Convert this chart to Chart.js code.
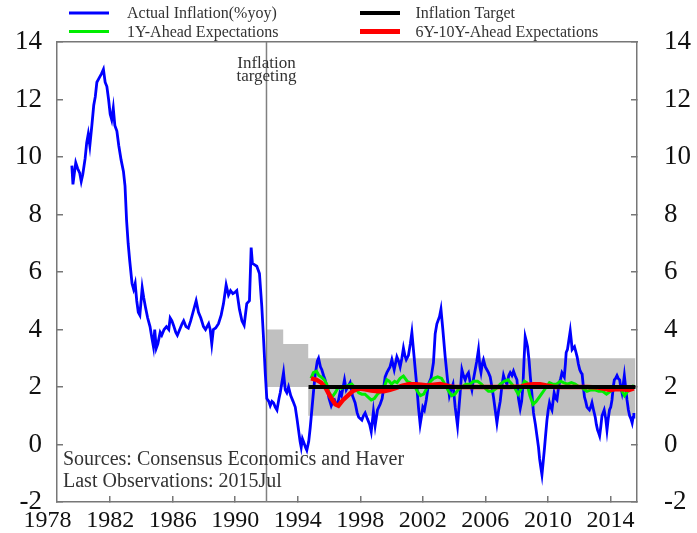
<!DOCTYPE html>
<html><head><meta charset="utf-8">
<script src="https://cdn.jsdelivr.net/npm/chart.js@4.4.1/dist/chart.umd.min.js"></script>
<style>html,body{margin:0;padding:0;background:#fff}#wrap{width:697px;height:533px}</style>
</head><body><div id="wrap"><canvas id="c" width="697" height="533"></canvas></div>
<script>
// ---------- DATA ----------
const seriesNames = ['Actual Inflation(%yoy)', 'Inflation Target', '1Y-Ahead Expectations', '6Y-10Y-Ahead Expectations'];
const xTickValues = [1978, 1982, 1986, 1990, 1994, 1998, 2002, 2006, 2010, 2014];
const xTickLabels = ['1978', '1982', '1986', '1990', '1994', '1998', '2002', '2006', '2010', '2014'];
const yTickValues = [-2, 0, 2, 4, 6, 8, 10, 12, 14];
const xMin = 1978.6, xMax = 2015.7;

const actualYears = [1979.55,1979.62,1979.7,1979.8,1979.92,1980.05,1980.15,1980.25,1980.4,1980.5,1980.6,1980.7,1980.83,1980.95,1981.05,1981.15,1981.3,1981.45,1981.57,1981.68,1981.79,1981.9,1982.0,1982.1,1982.2,1982.3,1982.43,1982.55,1982.7,1982.85,1982.95,1983.05,1983.15,1983.25,1983.4,1983.5,1983.6,1983.7,1983.8,1983.9,1984.05,1984.15,1984.25,1984.4,1984.55,1984.67,1984.77,1984.85,1984.95,1985.05,1985.2,1985.3,1985.45,1985.6,1985.75,1985.84,1985.95,1986.05,1986.2,1986.3,1986.45,1986.6,1986.7,1986.85,1987.0,1987.15,1987.3,1987.5,1987.65,1987.8,1987.97,1988.1,1988.3,1988.4,1988.5,1988.6,1988.75,1988.93,1989.1,1989.25,1989.42,1989.57,1989.7,1989.85,1990.0,1990.1,1990.27,1990.43,1990.57,1990.74,1990.91,1991.02,1991.1,1991.25,1991.38,1991.55,1991.7,1991.8,1991.92,1992.02,1992.15,1992.24,1992.35,1992.45,1992.56,1992.67,1992.8,1992.88,1993.0,1993.09,1993.2,1993.3,1993.41,1993.55,1993.7,1993.84,1993.95,1994.05,1994.15,1994.22,1994.3,1994.37,1994.5,1994.58,1994.7,1994.8,1994.9,1995.0,1995.11,1995.25,1995.33,1995.45,1995.54,1995.65,1995.75,1995.9,1996.0,1996.14,1996.25,1996.35,1996.45,1996.57,1996.7,1996.8,1996.99,1997.1,1997.2,1997.35,1997.5,1997.67,1997.8,1997.9,1998.1,1998.2,1998.31,1998.45,1998.6,1998.7,1998.84,1998.95,1999.1,1999.27,1999.4,1999.59,1999.7,1999.8,1999.9,2000.02,2000.17,2000.34,2000.45,2000.55,2000.66,2000.76,2000.85,2000.94,2001.08,2001.2,2001.3,2001.4,2001.5,2001.62,2001.72,2001.83,2001.92,2002.0,2002.1,2002.22,2002.36,2002.52,2002.68,2002.79,2002.9,2003.07,2003.16,2003.28,2003.43,2003.58,2003.7,2003.8,2003.93,2004.07,2004.22,2004.3,2004.39,2004.5,2004.6,2004.71,2004.8,2004.92,2005.05,2005.14,2005.25,2005.35,2005.45,2005.56,2005.65,2005.72,2005.8,2005.88,2006.0,2006.1,2006.2,2006.31,2006.42,2006.52,2006.63,2006.74,2006.85,2006.95,2007.05,2007.16,2007.27,2007.38,2007.5,2007.59,2007.7,2007.8,2007.9,2008.02,2008.12,2008.23,2008.32,2008.4,2008.48,2008.55,2008.62,2008.7,2008.8,2008.87,2008.97,2009.08,2009.2,2009.3,2009.4,2009.47,2009.55,2009.62,2009.7,2009.77,2009.85,2009.94,2010.02,2010.1,2010.18,2010.26,2010.33,2010.4,2010.5,2010.58,2010.66,2010.74,2010.82,2010.9,2011.0,2011.05,2011.12,2011.17,2011.25,2011.32,2011.43,2011.5,2011.55,2011.62,2011.7,2011.8,2011.87,2011.95,2012.04,2012.12,2012.19,2012.27,2012.34,2012.42,2012.5,2012.58,2012.66,2012.74,2012.82,2012.92,2013.03,2013.1,2013.18,2013.25,2013.31,2013.38,2013.46,2013.53,2013.6,2013.7,2013.78,2013.86,2013.94,2014.02,2014.1,2014.18,2014.25,2014.33,2014.42,2014.5,2014.59,2014.66,2014.74,2014.82,2014.89,2014.97,2015.06,2015.15,2015.23,2015.31,2015.39,2015.45,2015.5];
const actualValues = [9.7,9.05,9.4,9.8,9.6,9.45,9.15,9.4,9.95,10.5,10.8,10.4,11.1,11.8,12.1,12.6,12.75,12.9,13.05,12.6,12.45,12.0,11.5,11.3,11.7,11.1,10.9,10.4,9.9,9.5,9.0,7.8,7.0,6.4,5.6,5.4,5.6,5.0,4.6,4.5,5.45,5.1,4.8,4.4,4.1,3.7,3.4,4.0,3.35,3.5,3.9,3.8,4.0,4.1,4.0,4.4,4.3,4.15,3.9,3.8,4.0,4.2,4.3,4.1,4.05,4.3,4.6,5.0,4.6,4.4,4.1,4.0,4.2,4.0,3.5,4.0,4.05,4.2,4.5,4.9,5.55,5.2,5.35,5.25,5.3,5.35,4.7,4.3,4.15,4.9,5.0,6.85,6.3,6.25,6.2,5.95,4.8,3.8,2.5,1.6,1.5,1.35,1.5,1.45,1.3,1.2,1.6,1.8,2.2,2.5,1.9,1.8,2.0,1.7,1.5,1.3,0.9,0.5,0.1,-0.1,0.2,0.1,-0.1,-0.2,0.1,0.6,1.2,1.8,2.4,2.9,3.0,2.7,2.6,2.4,2.25,1.9,1.6,1.35,1.5,1.55,1.4,1.45,1.8,1.7,2.25,1.9,2.0,2.15,1.7,1.45,1.1,0.95,0.85,1.0,1.1,0.9,0.7,0.45,1.15,0.65,1.2,1.4,1.6,2.35,2.5,2.6,2.7,2.95,2.6,3.05,2.9,2.7,3.0,3.35,3.1,2.95,3.1,3.5,3.9,3.3,2.7,2.0,1.3,0.7,1.0,1.3,1.2,1.55,2.1,2.3,2.85,3.85,4.2,4.45,4.7,4.0,3.05,2.25,1.7,1.9,2.1,1.3,0.65,1.2,1.8,2.6,2.4,2.25,2.4,2.5,2.1,1.9,2.3,2.6,2.9,3.3,2.7,2.5,2.8,2.95,2.7,2.6,2.5,2.35,2.0,1.65,1.2,0.75,1.2,1.5,2.0,2.4,2.2,2.1,2.4,2.5,2.4,2.55,2.4,2.25,1.6,1.25,1.5,2.0,3.0,3.75,3.6,3.4,2.9,2.4,1.8,1.1,0.7,0.3,-0.1,-0.5,-0.8,-1.05,-0.6,-0.2,0.3,0.85,1.2,1.45,1.3,1.2,1.5,1.8,1.6,1.55,1.9,2.15,2.3,2.5,2.4,2.35,2.8,3.2,3.3,3.55,3.95,3.6,3.3,3.35,3.4,3.2,3.05,2.8,2.6,2.5,2.45,2.0,1.65,1.5,1.3,1.25,1.2,1.3,1.45,1.2,0.95,0.7,0.5,0.4,0.3,0.6,1.0,1.1,1.2,0.9,0.5,0.9,1.2,1.3,1.55,2.0,2.25,2.3,2.4,2.3,2.25,2.0,1.8,2.1,2.4,2.0,1.55,1.2,1.0,0.9,0.75,0.95,1.1];

const exp1YYears = [1994.85,1995.0,1995.2,1995.35,1995.5,1995.7,1995.85,1996.0,1996.2,1996.4,1996.6,1996.8,1997.0,1997.2,1997.45,1997.7,1997.9,1998.1,1998.3,1998.5,1998.7,1998.9,1999.1,1999.3,1999.5,1999.7,1999.85,2000.0,2000.2,2000.35,2000.55,2000.76,2001.0,2001.2,2001.45,2001.65,2001.85,2002.05,2002.3,2002.5,2002.7,2002.95,2003.2,2003.45,2003.65,2003.85,2004.05,2004.25,2004.5,2004.75,2005.0,2005.25,2005.5,2005.75,2006.0,2006.2,2006.45,2006.7,2006.95,2007.2,2007.45,2007.7,2007.9,2008.1,2008.3,2008.5,2008.65,2008.85,2009.05,2009.25,2009.45,2009.65,2009.9,2010.1,2010.3,2010.55,2010.8,2011.0,2011.25,2011.5,2011.75,2012.0,2012.25,2012.5,2012.75,2013.0,2013.25,2013.5,2013.75,2014.0,2014.2,2014.45,2014.7,2014.9,2015.1,2015.3,2015.5];
const exp1YValues = [2.3,2.5,2.55,2.4,2.35,2.25,2.1,1.8,1.65,1.8,2.0,1.95,2.0,2.05,2.1,1.95,1.8,1.75,1.75,1.65,1.55,1.6,1.75,1.85,1.95,2.25,2.2,2.1,2.2,2.15,2.3,2.38,2.2,2.15,2.05,1.85,1.7,1.75,2.0,2.2,2.3,2.35,2.3,2.05,1.85,1.7,1.75,1.9,2.0,2.1,2.1,2.2,2.2,2.1,1.95,1.85,1.85,1.95,2.1,2.2,2.25,2.1,1.95,1.75,1.95,2.2,2.15,1.7,1.4,1.5,1.65,1.8,2.0,2.15,2.1,2.1,2.2,2.15,2.1,2.15,2.1,2.0,1.95,1.85,1.9,1.9,1.85,1.85,1.75,1.85,1.95,2.0,1.9,1.7,1.85,2.0,2.05];

const exp6YYears = [1994.85,1995.2,1995.5,1995.8,1996.1,1996.4,1996.6,1996.9,1997.2,1997.5,1997.9,1998.3,1998.7,1999.1,1999.5,1999.9,2000.3,2000.7,2001.1,2001.5,2001.9,2002.3,2002.7,2003.1,2003.5,2003.9,2004.5,2005.5,2006.5,2007.5,2008.3,2008.7,2009.1,2009.5,2009.9,2010.4,2011.5,2012.5,2013.2,2013.6,2014.0,2014.4,2014.8,2015.2,2015.5];
const exp6YValues = [2.3,2.25,2.15,1.95,1.65,1.4,1.35,1.55,1.7,1.85,1.95,1.92,1.88,1.85,1.85,1.9,1.97,2.05,2.1,2.1,2.08,2.05,2.08,2.1,2.05,2.0,2.0,2.0,2.0,2.0,2.02,2.08,2.1,2.1,2.05,2.0,2.0,2.0,1.98,1.94,1.9,1.93,1.92,1.9,1.95];

const targetYears = [1994.69, 2015.6];
const targetValues = [2, 2];

const bandYears = [1992.0, 1993.07, 1994.67, 2015.6];
const bandUpper = [4, 3.5, 3, 3];
const bandLower = [2, 2, 1, 1];

const regimeYear = 1992.0;
const regimeLabel = ['Inflation', 'targeting'];
const notes = ['Sources: Consensus Economics and Haver', 'Last Observations: 2015Jul'];

// ---------- BUILD ----------
const pts = (xs, ys) => xs.map((x, i) => ({x, y: ys[i]}));
const SERIF = "'Liberation Serif', 'Times New Roman', serif";
const colors = {actual: '#0000ff', target: '#000000', exp1: '#00ee00', exp6: '#ff0000'};

const textPlugin = {
  id: 'texts',
  afterDraw(chart) {
    const ctx = chart.ctx;
    const xs = chart.scales.x;
    ctx.save();
    ctx.fillStyle = '#333';
    ctx.font = "17px " + SERIF;
    ctx.textAlign = 'center';
    ctx.textBaseline = 'middle';
    const px = xs.getPixelForValue(regimeYear);
    ctx.fillText(regimeLabel[0], px, 64);
    ctx.fillText(regimeLabel[1], px, 77);
    ctx.font = "20px " + SERIF;
    ctx.textAlign = 'left';
    ctx.fillText(notes[0], 63, 460);
    ctx.fillText(notes[1], 63, 482);
    const items = [
      {name: seriesNames[0], color: colors.actual, w: 3, cx: 69, tx: 127, y: 13},
      {name: seriesNames[1], color: colors.target, w: 4, cx: 360, tx: 415.5, y: 13},
      {name: seriesNames[2], color: colors.exp1, w: 3, cx: 69, tx: 127, y: 31.5},
      {name: seriesNames[3], color: colors.exp6, w: 5, cx: 360, tx: 415.5, y: 31.5}
    ];
    ctx.font = "16px " + SERIF;
    items.forEach(it => {
      ctx.fillStyle = it.color;
      ctx.fillRect(it.cx, it.y - it.w / 2, 40, it.w);
      ctx.fillStyle = '#333';
      ctx.fillText(it.name, it.tx, it.y + 1);
    });
    ctx.restore();
  }
};

const axisGrid = {drawOnChartArea: false, tickLength: -6, color: '#777', lineWidth: 1.5};
const fixV = w => s => { s.width = w; s.paddingTop = 0; s.paddingBottom = 0; };

new Chart(document.getElementById('c'), {
  type: 'line',
  data: {
    datasets: [
      {label: seriesNames[1], data: pts(targetYears, targetValues), borderColor: colors.target, backgroundColor: colors.target, borderWidth: 4, pointRadius: 0, order: 0, fill: false},
      {label: seriesNames[3], data: pts(exp6YYears, exp6YValues), borderColor: colors.exp6, backgroundColor: colors.exp6, borderWidth: 4.5, pointRadius: 0, order: 1, fill: false},
      {label: seriesNames[2], data: pts(exp1YYears, exp1YValues), borderColor: colors.exp1, backgroundColor: colors.exp1, borderWidth: 3, pointRadius: 0, order: 2, fill: false},
      {label: seriesNames[0], data: pts(actualYears, actualValues), borderColor: colors.actual, backgroundColor: colors.actual, borderWidth: 2.8, pointRadius: 0, order: 3, fill: false},
      {label: 'regime', data: pts([regimeYear, regimeYear], [-2, 14]), borderColor: '#808080', borderWidth: 1.5, pointRadius: 0, order: 4, fill: false},
      {label: 'bandUpper', data: pts(bandYears, bandUpper), stepped: 'before', borderWidth: 0, borderColor: 'rgba(0,0,0,0)', backgroundColor: '#c0c0c0', pointRadius: 0, order: 5, fill: '+1'},
      {label: 'bandLower', data: pts(bandYears, bandLower), stepped: 'before', borderWidth: 0, borderColor: 'rgba(0,0,0,0)', pointRadius: 0, order: 6, fill: false}
    ]
  },
  options: {
    responsive: false,
    animation: false,
    devicePixelRatio: 1,
    layout: {padding: 0},
    elements: {line: {tension: 0}},
    plugins: {legend: {display: false}, tooltip: {enabled: false}, title: {display: false}},
    scales: {
      x: {
        type: 'linear', position: 'bottom', min: xMin, max: xMax,
        afterBuildTicks: s => { s.ticks = xTickValues.map(v => ({value: v})); },
        afterFit: s => { s.height = 31; },
        ticks: {autoSkip: false, maxRotation: 0, minRotation: 0, padding: 10, color: '#111',
                font: {family: SERIF, size: 24}, callback: (v, i) => xTickLabels[i]},
        grid: Object.assign({}, axisGrid, {color: c => (c.tick && c.tick.value < xMin) ? 'rgba(0,0,0,0)' : '#777'}),
        border: {color: '#777', width: 1.5}
      },
      x2: {
        type: 'linear', position: 'top', min: xMin, max: xMax,
        afterFit: s => { s.height = 42; },
        ticks: {display: false},
        grid: {display: false, drawTicks: false},
        border: {display: true, color: '#777', width: 1.5}
      },
      y: {
        type: 'linear', position: 'left', min: -2, max: 14,
        afterBuildTicks: s => { s.ticks = yTickValues.map(v => ({value: v})); },
        afterFit: fixV(57),
        ticks: {padding: 21, color: '#111', font: {family: SERIF, size: 27}},
        grid: axisGrid,
        border: {color: '#777', width: 1.5}
      },
      y2: {
        type: 'linear', position: 'right', min: -2, max: 14,
        afterBuildTicks: s => { s.ticks = yTickValues.map(v => ({value: v})); },
        afterFit: fixV(60),
        ticks: {padding: 33, color: '#111', font: {family: SERIF, size: 27}},
        grid: axisGrid,
        border: {color: '#777', width: 1.5}
      }
    }
  },
  plugins: [textPlugin]
});
</script></body></html>
